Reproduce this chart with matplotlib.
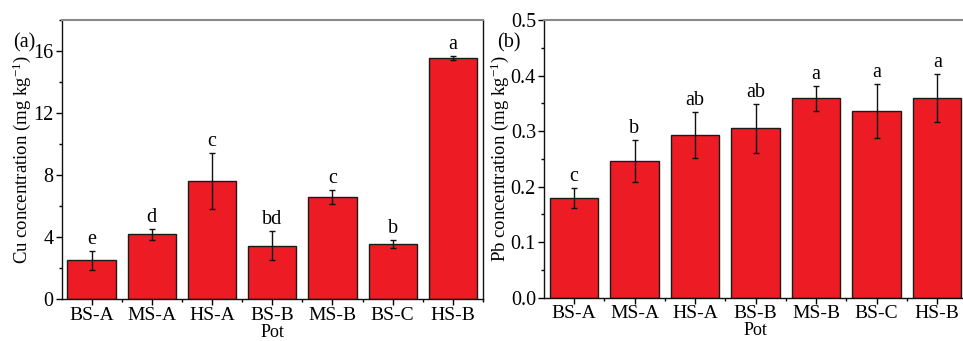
import matplotlib
matplotlib.use("Agg")
import matplotlib.pyplot as plt
from matplotlib.ticker import MultipleLocator
import numpy as np

plt.rcParams['font.family'] = ['Liberation Serif', 'DejaVu Serif']
plt.rcParams['mathtext.fontset'] = 'custom'
plt.rcParams['mathtext.rm'] = 'Liberation Serif'
plt.rcParams['mathtext.it'] = 'Liberation Serif:italic'

pots = ["BS-A", "MS-A", "HS-A", "BS-B", "MS-B", "BS-C", "HS-B"]

cu_mean = [2.5, 4.17, 7.6, 3.44, 6.56, 3.53, 15.53]
cu_err = [0.6, 0.35, 1.8, 0.93, 0.45, 0.27, 0.13]
cu_letters = ["e", "d", "c", "bd", "c", "b", "a"]

pb_mean = [0.179, 0.246, 0.293, 0.305, 0.359, 0.336, 0.359]
pb_err = [0.018, 0.038, 0.042, 0.044, 0.022, 0.048, 0.043]
pb_letters = ["c", "b", "ab", "ab", "a", "a", "a"]

W, H = 963, 341
fig = plt.figure(figsize=(W / 100, H / 100), dpi=100)

bar_color = "#ED1C24"
fs = 14.5
lfs = 13.5


def panel(rect, means, errs, letters, ylim, major, minor, ylabel, fmt, lab_x):
    ax = fig.add_axes(rect)
    x = np.arange(len(pots))
    ax.bar(x, means, width=0.8, color=bar_color, edgecolor="#1a1a1a", linewidth=1.0, zorder=2)
    ax.errorbar(x, means, yerr=errs, fmt="none", ecolor="#111111", elinewidth=1.0,
                capsize=2.5, capthick=1.0, zorder=3)
    for xi, m, e, l in zip(x, means, errs, letters):
        ax.annotate(l, (xi, m + e), xytext=(0, 1.5), textcoords="offset points",
                    ha="center", va="bottom", fontsize=fs)
    ax.set_xlim(-0.49, 6.49)
    ax.set_ylim(*ylim)
    ax.set_xticks(x)
    ax.set_xticklabels(pots, fontsize=14)
    ax.set_xticks(x + 0.5, minor=True)
    ax.yaxis.set_major_locator(MultipleLocator(major))
    ax.yaxis.set_minor_locator(MultipleLocator(minor))
    ax.yaxis.set_major_formatter(fmt)
    ax.tick_params(axis="both", which="major", direction="out", length=4, width=1.0,
                   pad=1.5, top=False, right=False)
    ax.tick_params(axis="y", which="major", labelsize=fs, pad=2)
    ax.tick_params(axis="both", which="minor", direction="out", length=2.5, width=1.0,
                   top=False, right=False)
    for s in ["left", "bottom", "right"]:
        ax.spines[s].set_color("#111111")
        ax.spines[s].set_linewidth(1.0)
    ax.spines["top"].set_color("#8a8a8a")
    ax.spines["top"].set_linewidth(1.5)
    ax.set_xlabel("Pot", fontsize=13)
    ax.xaxis.set_label_coords(0.5, -0.089)
    ax.xaxis.label.set_va("top")
    ax.set_ylabel(ylabel, fontsize=lfs)
    ax.yaxis.set_label_coords(lab_x, 0.5)
    return ax


ax1 = panel([62 / W, 42 / H, 421 / W, 279 / H], cu_mean, cu_err, cu_letters,
            (0, 18), 4, 2, "Cu concentration (mg kg$^{-1}$)",
            matplotlib.ticker.FormatStrFormatter("%d"), -0.068)
ax2 = panel([544.3 / W, 43.3 / H, 423.2 / W, 277.7 / H], pb_mean, pb_err, pb_letters,
            (0, 0.5), 0.1, 0.05, "Pb concentration (mg kg$^{-1}$)",
            matplotlib.ticker.FormatStrFormatter("%.1f"), -0.079)

fig.text(13 / W, 1 - 43 / H, "(a)", fontsize=fs, ha="left", va="center")
fig.text(497 / W, 1 - 43 / H, "(b)", fontsize=fs, ha="left", va="center")

fig.savefig("out.png", dpi=100)
